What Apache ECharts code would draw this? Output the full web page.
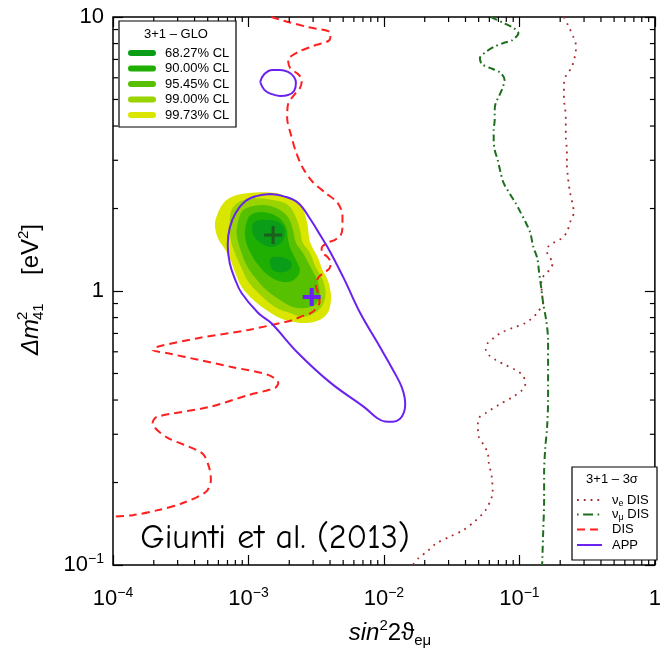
<!DOCTYPE html>
<html><head><meta charset="utf-8">
<script src="https://cdn.jsdelivr.net/npm/echarts@6/dist/echarts.min.js"></script>
<style>html,body{margin:0;padding:0;background:#fff}#c{width:664px;height:650px}</style>
</head><body><div id="c"></div>
<script>
// ---- axes / ticks ----
const X_MAJOR = [1e-4, 1e-3, 1e-2, 1e-1, 1];
const Y_MAJOR = [0.1, 1, 10];
const MINOR_MULT = [2, 3, 4, 5, 6, 7, 8, 9];

// ---- 3+1 GLO allowed regions (sin^2 2theta, dm^2) ----
const CL_LABELS = ['68.27% CL', '90.00% CL', '95.45% CL', '99.00% CL', '99.73% CL'];
const CL_COLORS = ['#0a9d18', '#1faf03', '#57c000', '#9ad400', '#dae500'];
const C9973 = [[5.71e-4,1.82],[6.57e-4,2.10],[8.17e-4,2.24],[1.144e-3,2.29],[1.60e-3,2.28],[1.96e-3,2.20],[2.38e-3,2.10],[2.59e-3,1.93],[2.74e-3,1.72],[2.82e-3,1.535],[2.98e-3,1.435],[3.24e-3,1.33],[3.53e-3,1.19],[3.84e-3,1.10],[4.04e-3,0.994],[4.04e-3,0.904],[3.84e-3,0.831],[3.34e-3,0.784],[2.65e-3,0.764],[2.13e-3,0.773],[1.70e-3,0.797],[1.353e-3,0.852],[1.088e-3,0.927],[8.89e-4,1.037],[8.00e-4,1.163],[7.35e-4,1.30],[6.76e-4,1.41],[6.04e-4,1.535],[5.71e-4,1.67]];
const C9900 = [[7.27e-4,1.77],[7.51e-4,1.98],[8.45e-4,2.11],[1.088e-3,2.18],[1.52e-3,2.15],[1.96e-3,2.06],[2.24e-3,1.86],[2.40e-3,1.67],[2.52e-3,1.50],[2.84e-3,1.38],[3.14e-3,1.22],[3.53e-3,1.10],[3.71e-3,0.983],[3.53e-3,0.889],[3.08e-3,0.831],[2.52e-3,0.804],[2.03e-3,0.831],[1.57e-3,0.874],[1.224e-3,0.967],[1.0e-3,1.078],[8.89e-4,1.213],[8.04e-4,1.353],[7.39e-4,1.535]];
const C9545 = [[8.45e-4,1.82],[9.19e-4,1.98],[1.224e-3,2.06],[1.60e-3,2.01],[1.96e-3,1.86],[2.13e-3,1.67],[2.24e-3,1.50],[2.52e-3,1.38],[2.88e-3,1.22],[3.24e-3,1.08],[3.35e-3,0.951],[3.08e-3,0.889],[2.61e-3,0.867],[2.13e-3,0.874],[1.71e-3,0.927],[1.353e-3,1.008],[1.125e-3,1.115],[9.67e-4,1.245],[8.74e-4,1.41],[8.17e-4,1.63]];
const C9000 = [[1.034e-3,1.89],[1.287e-3,1.94],[1.66e-3,1.86],[1.894e-3,1.71],[1.96e-3,1.535],[2.06e-3,1.41],[2.24e-3,1.30],[2.40e-3,1.19],[2.24e-3,1.115],[1.96e-3,1.078],[1.60e-3,1.097],[1.331e-3,1.163],[1.144e-3,1.27],[1.034e-3,1.38],[9.51e-4,1.535],[9.51e-4,1.71]];
const C6827A = [[1.088e-3,1.77],[1.353e-3,1.82],[1.71e-3,1.77],[1.86e-3,1.63],[1.74e-3,1.50],[1.47e-3,1.447],[1.224e-3,1.50],[1.088e-3,1.60]];
const C6827B = [[1.47e-3,1.32],[1.74e-3,1.33],[2.06e-3,1.28],[2.06e-3,1.21],[1.80e-3,1.17],[1.52e-3,1.19],[1.45e-3,1.245]];
const BEST_GLO = [[1.52e-3, 1.60]];
const BEST_APP = [[2.93e-3, 0.951]];

// ---- 3 sigma curves ----
const APP = [[1.45e-3,2.26],[1.80e-3,2.22],[2.32e-3,2.10],[2.88e-3,1.82],[3.41e-3,1.59],[4.04e-3,1.38],[5.11e-3,1.10],[6.68e-3,0.831],[9.35e-3,0.625],[1.245e-2,0.486],[1.353e-2,0.446],[1.42e-2,0.410],[1.435e-2,0.384],[1.40e-2,0.359],[1.309e-2,0.341],[1.163e-2,0.333],[1.017e-2,0.334],[8.89e-3,0.344],[7.15e-3,0.377],[4.04e-3,0.462],[2.32e-3,0.594],[1.47e-3,0.764],[1.18e-3,0.831],[8.89e-4,0.983],[7.90e-4,1.115],[7.27e-4,1.266],[7.03e-4,1.472],[7.27e-4,1.698],[8.04e-4,1.927],[9.51e-4,2.131],[1.144e-3,2.22],[1.45e-3,2.26]];
const APP_ISLAND = [[1.22e-3,5.79],[1.31e-3,6.19],[1.50e-3,6.41],[1.71e-3,6.41],[1.96e-3,6.30],[2.17e-3,6.04],[2.24e-3,5.74],[2.17e-3,5.37],[1.96e-3,5.19],[1.71e-3,5.15],[1.47e-3,5.24],[1.31e-3,5.42],[1.22e-3,5.79]];
const DIS = [[1.47e-3,10],[1.96e-3,9.59],[2.74e-3,9.19],[4.04e-3,8.74],[3.97e-3,8.24],[2.98e-3,7.83],[2.32e-3,7.45],[1.96e-3,6.97],[2.03e-3,6.51],[2.32e-3,6.19],[2.48e-3,5.89],[2.40e-3,5.51],[2.17e-3,5.19],[1.96e-3,4.81],[1.93e-3,4.28],[2.06e-3,3.71],[2.24e-3,3.22],[2.52e-3,2.81],[2.98e-3,2.50],[3.71e-3,2.28],[4.54e-3,2.10],[4.94e-3,1.89],[4.94e-3,1.70],[4.77e-3,1.59],[4.32e-3,1.535],[3.84e-3,1.50],[3.47e-3,1.435],[3.47e-3,1.39],[3.84e-3,1.33],[4.04e-3,1.27],[3.97e-3,1.21],[3.65e-3,1.17],[3.30e-3,1.125],[3.14e-3,1.05],[3.30e-3,0.967],[3.35e-3,0.912],[3.14e-3,0.860],[2.88e-3,0.831],[2.52e-3,0.811],[2.13e-3,0.784],[1.86e-3,0.771],[1.0e-3,0.721],[4.32e-4,0.674],[2.10e-4,0.625],[1.96e-4,0.609],[2.48e-4,0.594],[4.32e-4,0.560],[7.51e-4,0.528],[1.40e-3,0.494],[1.66e-3,0.462],[1.57e-3,0.443],[1.0e-3,0.417],[5.11e-4,0.377],[2.10e-4,0.347],[1.96e-4,0.330],[2.48e-4,0.293],[4.54e-4,0.256],[5.11e-4,0.228],[5.28e-4,0.204],[4.86e-4,0.185],[3.24e-4,0.168],[2.20e-4,0.159],[1.40e-4,0.152],[1.0e-4,0.150]];
const NUE_DIS = [[0.213,10],[0.228,9.35],[0.252,8.38],[0.261,7.90],[0.261,7.45],[0.252,6.97],[0.244,6.57],[0.228,6.25],[0.217,5.99],[0.213,5.55],[0.213,5.28],[0.213,4.98],[0.217,4.69],[0.220,4.21],[0.220,3.65],[0.224,3.27],[0.224,2.93],[0.228,2.61],[0.236,2.30],[0.248,2.06],[0.252,1.93],[0.240,1.82],[0.224,1.64],[0.206,1.56],[0.183,1.51],[0.163,1.45],[0.160,1.39],[0.166,1.33],[0.177,1.27],[0.168,1.20],[0.155,1.15],[0.145,1.10],[0.147,0.967],[0.150,0.912],[0.135,0.831],[0.124,0.797],[0.111,0.764],[0.0889,0.733],[0.0727,0.703],[0.0646,0.674],[0.0584,0.646],[0.0565,0.609],[0.0594,0.584],[0.0668,0.560],[0.0790,0.537],[0.0935,0.515],[0.105,0.494],[0.111,0.462],[0.105,0.435],[0.0889,0.410],[0.0703,0.384],[0.0565,0.359],[0.0502,0.344],[0.0494,0.324],[0.0502,0.293],[0.0546,0.274],[0.0584,0.256],[0.0594,0.236],[0.0625,0.210],[0.0635,0.183],[0.0614,0.173],[0.0565,0.159],[0.0462,0.1435],[0.0384,0.134],[0.0303,0.1265],[0.0244,0.120],[0.0206,0.1115],[0.0180,0.106],[0.0163,0.1]];
const NUMU_DIS = [[0.0614,10],[0.0764,9.51],[0.0904,9.12],[0.0983,8.74],[0.0889,8.24],[0.0764,8.04],[0.0646,7.77],[0.0565,7.45],[0.0511,7.08],[0.0528,6.73],[0.0635,6.46],[0.0727,6.25],[0.0777,5.89],[0.0751,5.51],[0.0703,5.11],[0.0668,4.85],[0.0657,4.58],[0.0657,4.21],[0.0646,3.87],[0.0646,3.56],[0.0657,3.27],[0.0691,3.01],[0.0727,2.70],[0.0764,2.48],[0.0860,2.24],[0.0935,2.10],[0.1017,1.94],[0.1106,1.79],[0.1203,1.63],[0.1265,1.45],[0.1353,1.32],[0.140,1.16],[0.1447,1.03],[0.1497,0.904],[0.1575,0.784],[0.1628,0.663],[0.1628,0.528],[0.1628,0.400],[0.1601,0.319],[0.1548,0.263],[0.1522,0.217],[0.1522,0.173],[0.1497,0.131],[0.1472,0.1]];

const FONT = "'Liberation Sans', Arial, Helvetica, sans-serif";
const COL = { nue: '#a8282c', numu: '#1e6e1e', dis: '#ff1f1f', app: '#6a22f0', best: '#1d5e1d' };

const MINOR_X = X_MAJOR.slice(0, -1).flatMap(d => MINOR_MULT.map(m => m * d));
const MINOR_Y = Y_MAJOR.slice(0, -1).flatMap(d => MINOR_MULT.map(m => m * d));

function expLabel(v) {
  const e = Math.round(Math.log10(v));
  if (e === 0) return '{b|1}';
  if (e === 1) return '{b|10}';
  return '{b|10}{sup|\u2212' + (-e) + '}';
}
const labelRich = {
  b: { fontSize: 22, fontFamily: FONT, color: '#000', lineHeight: 26 },
  sup: { fontSize: 14, fontFamily: FONT, color: '#000', verticalAlign: 'top', lineHeight: 14 }
};

function polySeries(pts, color) {
  return {
    type: 'custom', data: pts, clip: true, silent: true, z: 2,
    renderItem: (params, api) => params.dataIndex !== 0 ? null : ({
      type: 'polygon',
      shape: { points: pts.map(p => api.coord(p)), smooth: 0.35 },
      style: { fill: color }
    })
  };
}
function lineSeries(data, color, width, dash, smooth) {
  return { type: 'line', data, showSymbol: false, smooth, z: 5, silent: true,
    lineStyle: { color, width, type: dash } };
}
function crossSeries(data, color, width) {
  return {
    type: 'custom', data, z: 8, silent: true,
    renderItem: (params, api) => {
      const c = api.coord([api.value(0), api.value(1)]);
      return { type: 'group', children: [
        { type: 'line', shape: { x1: c[0] - 9, y1: c[1], x2: c[0] + 9, y2: c[1] }, style: { stroke: color, lineWidth: width } },
        { type: 'line', shape: { x1: c[0], y1: c[1] - 9, x2: c[0], y2: c[1] + 9 }, style: { stroke: color, lineWidth: width } }
      ]};
    }
  };
}
function tl(x1, y1, x2, y2) {
  return { type: 'line', shape: { x1, y1, x2, y2 }, style: { stroke: '#000', lineWidth: 1.2 } };
}
const minorXSeries = {
  type: 'custom', data: MINOR_X.map(v => [v, 1]), z: 10, silent: true, clip: false,
  renderItem: (params, api) => {
    const v = api.value(0);
    const b = api.coord([v, Y_MAJOR[0]]), t = api.coord([v, Y_MAJOR[Y_MAJOR.length - 1]]);
    return { type: 'group', children: [tl(b[0], b[1], b[0], b[1] - 5), tl(t[0], t[1], t[0], t[1] + 5)] };
  }
};
const minorYSeries = {
  type: 'custom', data: MINOR_Y.map(v => [1e-2, v]), z: 10, silent: true, clip: false,
  renderItem: (params, api) => {
    const v = api.value(1);
    const l = api.coord([X_MAJOR[0], v]), r = api.coord([X_MAJOR[X_MAJOR.length - 1], v]);
    return { type: 'group', children: [tl(l[0], l[1], l[0] + 5, l[1]), tl(r[0], r[1], r[0] - 5, r[1])] };
  }
};

const tickStyle = { inside: true, length: 10, lineStyle: { color: '#000', width: 1.2 } };
function xAx(pos, showLabel) {
  return { type: 'log', logBase: 10, min: X_MAJOR[0], max: X_MAJOR[X_MAJOR.length - 1], splitNumber: 4,
    position: pos, axisLine: { show: false }, splitLine: { show: false }, axisTick: tickStyle,
    axisLabel: { show: showLabel, formatter: expLabel, rich: labelRich, margin: 21, showMinLabel: true, showMaxLabel: true } };
}
function yAx(pos, showLabel) {
  return { type: 'log', logBase: 10, min: Y_MAJOR[0], max: Y_MAJOR[Y_MAJOR.length - 1], splitNumber: 2,
    position: pos, axisLine: { show: false }, splitLine: { show: false }, axisTick: tickStyle,
    axisLabel: { show: showLabel, formatter: expLabel, rich: labelRich, margin: 9, showMinLabel: true, showMaxLabel: true } };
}

// ---- legends & titles (graphic) ----
const txt = (x, y, text, size, extra) => ({ type: 'text', x, y, z: 101,
  style: Object.assign({ text, fontSize: size, fontFamily: FONT, fill: '#000', align: 'left', verticalAlign: 'middle' }, extra || {}) });

const LEG1_Y = [53, 68.5, 84, 99.5, 115];
const legend1 = { type: 'group', z: 100, children: [
  { type: 'rect', z: 100, shape: { x: 119, y: 21, width: 117, height: 106 }, style: { fill: '#fff', stroke: '#000', lineWidth: 1.2 } },
  txt(176, 34, '3+1 \u2013 GLO', 13, { align: 'center' })
].concat(CL_LABELS.flatMap((lab, i) => [
  { type: 'line', z: 101, shape: { x1: 131, y1: LEG1_Y[i], x2: 153, y2: LEG1_Y[i] }, style: { stroke: CL_COLORS[i], lineWidth: 6, lineCap: 'round' } },
  txt(165, LEG1_Y[i], lab, 13)
])) };

const LEG2_NAMES = ['{n|\u03bd}{s|e}{n| DIS}', '{n|\u03bd}{s|\u03bc}{n| DIS}', '{n|DIS}', '{n|APP}'];
const LEG2_Y = [500, 514.5, 529.5, 545];
const LEG2_STYLE = [
  { stroke: COL.nue, lineWidth: 1.8, lineDash: [1.8, 5] },
  { stroke: COL.numu, lineWidth: 2, lineDash: [1.6, 4.5, 10, 4.5] },
  { stroke: COL.dis, lineWidth: 2.2, lineDash: [8, 5] },
  { stroke: COL.app, lineWidth: 2 }
];
const rich2 = { n: { fontSize: 13, fontFamily: FONT, lineHeight: 16 }, s: { fontSize: 9, fontFamily: FONT, verticalAlign: 'bottom', lineHeight: 9 } };
const legend2 = { type: 'group', z: 100, children: [
  { type: 'rect', z: 100, shape: { x: 572, y: 467, width: 85, height: 93 }, style: { fill: '#fff', stroke: '#000', lineWidth: 1.2 } },
  txt(612, 479, '3+1 \u2013 3\u03c3', 13, { align: 'center' })
].concat(LEG2_NAMES.flatMap((lab, i) => [
  { type: 'line', z: 101, shape: { x1: 577, y1: LEG2_Y[i], x2: 602, y2: LEG2_Y[i] }, style: LEG2_STYLE[i] },
  txt(612, LEG2_Y[i], lab, 13, { rich: rich2 })
])) };

const xTitle = txt(390, 633, '{i|sin}{sup|2}{n|2\u03d1}{sub|e\u03bc}', 24, { align: 'center', rich: {
  i: { fontSize: 24, fontStyle: 'italic', fontFamily: FONT, lineHeight: 30 },
  n: { fontSize: 24, fontFamily: FONT, lineHeight: 30 },
  sup: { fontSize: 15, fontFamily: FONT, verticalAlign: 'top', lineHeight: 15 },
  sub: { fontSize: 15, fontFamily: FONT, verticalAlign: 'bottom', lineHeight: 15 } } });

const yTitle = { type: 'group', x: 31, y: 291, rotation: Math.PI / 2, z: 101, children: [
  txt(-64, 0, '\u0394m', 24, { fontStyle: 'italic' }),
  txt(-29, -8, '2', 15),
  txt(-29, 8, '41', 15),
  txt(16, 0, '{n|[eV}{sup|2}{n|]}', 24, { rich: {
    n: { fontSize: 24, fontFamily: FONT, lineHeight: 30 },
    sup: { fontSize: 15, fontFamily: FONT, verticalAlign: 'top', lineHeight: 15 } } })
] };

const author = txt(275, 538, 'Giunti et al. (2013)', 34, { align: 'center', fontFamily: "'Comic Sans MS', 'Comic Neue', Lato, sans-serif" });

const chart = echarts.init(document.getElementById('c'), null, { renderer: 'canvas' });
chart.setOption({
  animation: false,
  backgroundColor: '#fff',
  grid: { left: 113, right: 3, top: 17, bottom: 85, show: true, borderColor: '#000', borderWidth: 1.5, backgroundColor: 'transparent' },
  xAxis: [xAx('bottom', true), xAx('top', false)],
  yAxis: [yAx('left', true), yAx('right', false)],
  series: [
    polySeries(C9973, CL_COLORS[4]),
    polySeries(C9900, CL_COLORS[3]),
    polySeries(C9545, CL_COLORS[2]),
    polySeries(C9000, CL_COLORS[1]),
    polySeries(C6827A, CL_COLORS[0]),
    polySeries(C6827B, CL_COLORS[0]),
    lineSeries(NUE_DIS, COL.nue, 1.8, [1.8, 5.2], 0.3),
    lineSeries(NUMU_DIS, COL.numu, 2, [7, 3.5, 1.6, 3.5], 0.3),
    lineSeries(DIS, COL.dis, 2, [8, 5], 0.3),
    lineSeries(APP, COL.app, 2, 'solid', 0.4),
    lineSeries(APP_ISLAND, COL.app, 2, 'solid', 0.4),
    crossSeries(BEST_GLO, COL.best, 3),
    crossSeries(BEST_APP, COL.app, 4),
    minorXSeries,
    minorYSeries
  ],
  graphic: [legend1, legend2, xTitle, yTitle, author]
});
</script></body></html>
